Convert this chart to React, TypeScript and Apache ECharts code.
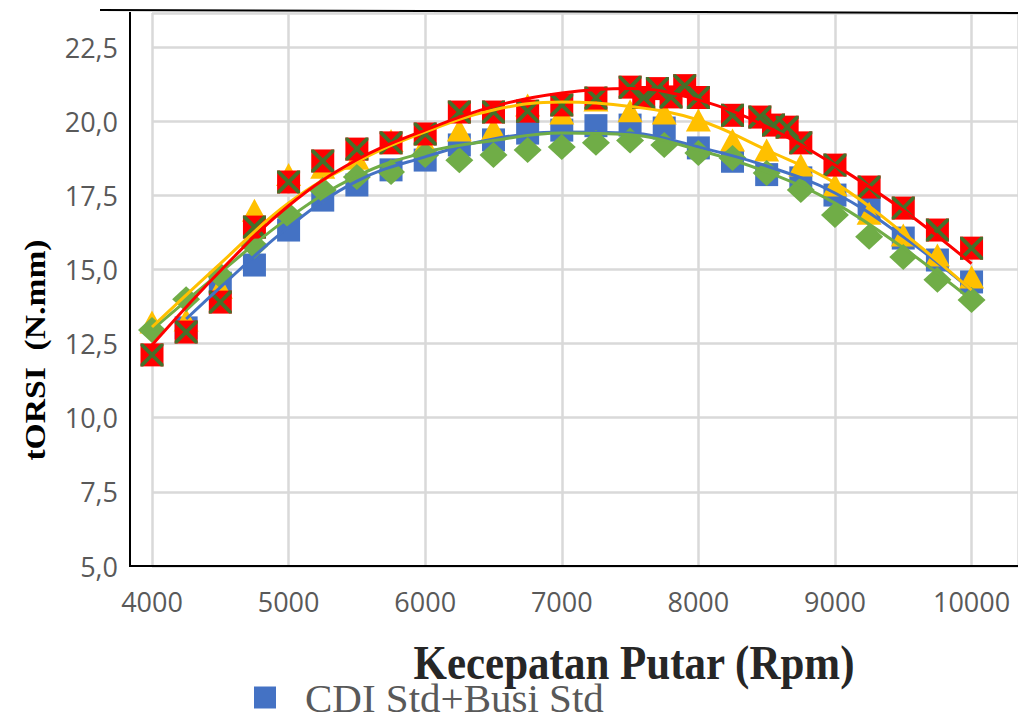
import React, { useEffect, useRef } from "react";
import * as echarts from "echarts";

// ---- Data ----
const rpm = [4000, 4250, 4500, 4750, 5000, 5250, 5500, 5750, 6000, 6250, 6500, 6750, 7000, 7250, 7500, 7750, 8000, 8250, 8500, 8750, 9000, 9250, 9500, 9750, 10000];

const blueRpm = [4250, 4500, 4750, 5000, 5250, 5500, 5750, 6000, 6250, 6500, 6750, 7000, 7250, 7500, 7750, 8000, 8250, 8500, 8750, 9000, 9250, 9500, 9750, 10000];
const blueValues = [13.03, 14.54, 15.15, 16.33, 17.34, 17.85, 18.36, 18.69, 19.2, 19.37, 19.6, 19.7, 19.85, 19.87, 19.77, 19.1, 18.65, 18.2, 18.09, 17.51, 17.07, 16.06, 15.32, 14.58];

const yellowValues = [13.23, 13.3, 14.4, 17.0, 18.2, 18.45, 18.75, 19.35, 19.25, 19.7, 19.75, 20.55, 20.28, 20.72, 20.35, 20.28, 20.04, 19.37, 19.03, 18.52, 17.85, 16.9, 16.16, 15.49, 14.75];

const greenValues = [12.96, 14.0, 14.8, 15.8, 16.84, 17.68, 18.12, 18.29, 18.86, 18.68, 18.86, 19.03, 19.13, 19.27, 19.35, 19.2, 18.93, 18.76, 18.25, 17.68, 16.84, 16.1, 15.42, 14.65, 13.97];

const redRpm = [4000, 4250, 4500, 4750, 5000, 5250, 5500, 5750, 6000, 6250, 6500, 6750, 7000, 7250, 7500, 7600, 7700, 7800, 7900, 8000, 8250, 8450, 8550, 8650, 8750, 9000, 9250, 9500, 9750, 10000];
const redValues = [12.12, 12.89, 13.9, 16.43, 17.95, 18.66, 19.06, 19.27, 19.57, 20.31, 20.31, 20.34, 20.55, 20.78, 21.15, 20.8, 21.1, 20.82, 21.2, 20.8, 20.2, 20.14, 19.87, 19.8, 19.27, 18.52, 17.78, 17.07, 16.33, 15.72];

// Trendlines
const trendRpm = [4000, 4500, 5000, 5500, 6000, 6500, 7000, 7500, 8000, 8500, 9000, 9500, 10000];
const redTrend = [12.45, 14.95, 17.15, 18.7, 19.7, 20.5, 20.95, 21.1, 20.72, 19.82, 18.52, 17.0, 15.2];
const yellowTrend = [13.06, 15.2, 17.24, 18.63, 19.64, 20.38, 20.65, 20.5, 20.04, 19.03, 17.92, 16.23, 14.3];
const greenTrend = [12.96, 14.9, 16.74, 18.15, 18.95, 19.35, 19.6, 19.54, 19.03, 18.29, 17.24, 15.73, 13.97];
const blueTrendRpm = [4250, 4500, 5000, 5500, 6000, 6500, 7000, 7500, 8000, 8500, 9000, 9500, 10000];
const blueTrend = [13.33, 14.4, 16.43, 17.98, 18.8, 19.4, 19.64, 19.6, 19.13, 18.49, 17.58, 16.1, 14.3];

const legendName = "CDI Std+Busi Std";
const xTitle = "Kecepatan Putar (Rpm)";
const yTitle = "tORSI  (N.mm)";

const BLUE = "#4472C4";
const YELLOW = "#FFC000";
const GREEN = "#70AD47";
const RED = "#FF0000";
const XGREEN = "#44702A";

const pairs = (xs: number[], ys: number[]) => xs.map((x, i) => [x, ys[i]]);

const X_PATH = "path://M0,0L2.6,0L11,8.4L19.4,0L22,0L22,2.6L13.6,11L22,19.4L22,22L19.4,22L11,13.6L2.6,22L0,22L0,19.4L8.4,11L0,2.6Z";

export default function App() {
  const ref = useRef<HTMLDivElement>(null);
  useEffect(() => {
    if (!ref.current) return;
    const chart = echarts.init(ref.current, undefined, { renderer: "svg" });
    const labelFont = { fontFamily: "Open Sans", fontSize: 27, color: "#595959" };
    const trend = (name: string, xs: number[], ys: number[], color: string, z: number) => ({
      name,
      type: "line",
      data: pairs(xs, ys),
      smooth: 0.4,
      showSymbol: false,
      symbol: "none",
      lineStyle: { color, width: 3 },
      itemStyle: { color },
      z,
      silent: true,
    });
    chart.setOption({
      animation: false,
      backgroundColor: "#ffffff",
      grid: { left: 152, right: 0, top: 13, bottom: 153, containLabel: false },
      legend: {
        data: [{ name: legendName, icon: "rect" }],
        left: 254,
        top: 677,
        padding: 0,
        itemWidth: 22,
        itemHeight: 22,
        textStyle: {
          fontFamily: "Liberation Serif",
          fontSize: 41,
          lineHeight: 38,
          color: "#595959",
          padding: [0, 0, 0, 24],
        },
      },
      xAxis: {
        type: "value",
        min: 4000,
        max: 10340,
        interval: 1000,
        axisLine: { show: true, lineStyle: { color: "#000000", width: 2 } },
        axisTick: { show: false },
        axisLabel: {
          ...labelFont,
          margin: 22,
          showMaxLabel: false,
          showMinLabel: true,
          formatter: (v: number) => String(v),
        },
        splitLine: { show: true, lineStyle: { color: "#D9D9D9", width: 2.5 } },
      },
      yAxis: {
        type: "value",
        min: 5,
        max: 23.65,
        interval: 2.5,
        offset: 22,
        axisLine: { show: false },
        axisTick: { show: false },
        axisLabel: {
          ...labelFont,
          margin: 12,
          showMaxLabel: false,
          formatter: (v: number) => v.toFixed(1).replace(".", ","),
        },
        splitLine: { show: true, lineStyle: { color: "#D9D9D9", width: 2.5 } },
      },
      series: [
        {
          name: legendName,
          type: "scatter",
          data: pairs(blueRpm, blueValues),
          symbol: "rect",
          symbolSize: 23,
          itemStyle: { color: BLUE, opacity: 1 },
          z: 2,
        },
        {
          name: "Seri 2",
          type: "scatter",
          data: pairs(rpm, yellowValues),
          symbol: "triangle",
          symbolSize: [25, 23],
          itemStyle: { color: YELLOW, opacity: 1 },
          z: 3,
        },
        {
          name: "Seri 3",
          type: "scatter",
          data: pairs(rpm, greenValues),
          symbol: "diamond",
          symbolSize: [28, 26],
          itemStyle: { color: GREEN, opacity: 1 },
          z: 4,
        },
        {
          name: "Seri 4",
          type: "scatter",
          data: pairs(redRpm, redValues),
          symbol: "rect",
          symbolSize: 23,
          itemStyle: { color: RED, opacity: 1 },
          z: 5,
        },
        {
          name: "Seri 4 x",
          type: "scatter",
          data: pairs(redRpm, redValues),
          symbol: X_PATH,
          symbolSize: 23,
          itemStyle: { color: XGREEN, opacity: 1 },
          z: 6,
          silent: true,
        },
        trend("Trend 1", blueTrendRpm, blueTrend, BLUE, 7),
        trend("Trend 3", trendRpm, greenTrend, GREEN, 8),
        trend("Trend 2", trendRpm, yellowTrend, YELLOW, 9),
        trend("Trend 4", trendRpm, redTrend, RED, 10),
      ],
      graphic: [
        {
          type: "line",
          shape: { x1: 130, y1: 12, x2: 130, y2: 567 },
          style: { stroke: "#000000", lineWidth: 2 },
          z: 100,
        },
        {
          type: "line",
          shape: { x1: 129, y1: 566, x2: 153, y2: 566 },
          style: { stroke: "#000000", lineWidth: 2 },
          z: 100,
        },
        {
          type: "line",
          shape: { x1: 100, y1: 10, x2: 1018, y2: 13 },
          style: { stroke: "#000000", lineWidth: 2 },
          z: 100,
        },
        {
          type: "text",
          x: 35,
          y: 350,
          rotation: Math.PI / 2,
          scaleX: 1.12,
          style: {
            text: yTitle,
            fontFamily: "Liberation Serif",
            fontWeight: "bold",
            fontSize: 30,
            fill: "#000000",
            textAlign: "center",
            textVerticalAlign: "middle",
          },
          z: 100,
        },
        {
          type: "text",
          x: 634,
          y: 662,
          scaleY: 1.15,
          style: {
            text: xTitle,
            fontFamily: "Liberation Serif",
            fontWeight: "bold",
            fontSize: 43,
            fill: "#262626",
            textAlign: "center",
            textVerticalAlign: "middle",
          },
          z: 100,
        },
      ],
    });
    return () => chart.dispose();
  }, []);
  return (
    <div
      ref={ref}
      style={{ position: "fixed", left: 0, top: 0, width: 1018, height: 719, background: "#ffffff" }}
    />
  );
}
